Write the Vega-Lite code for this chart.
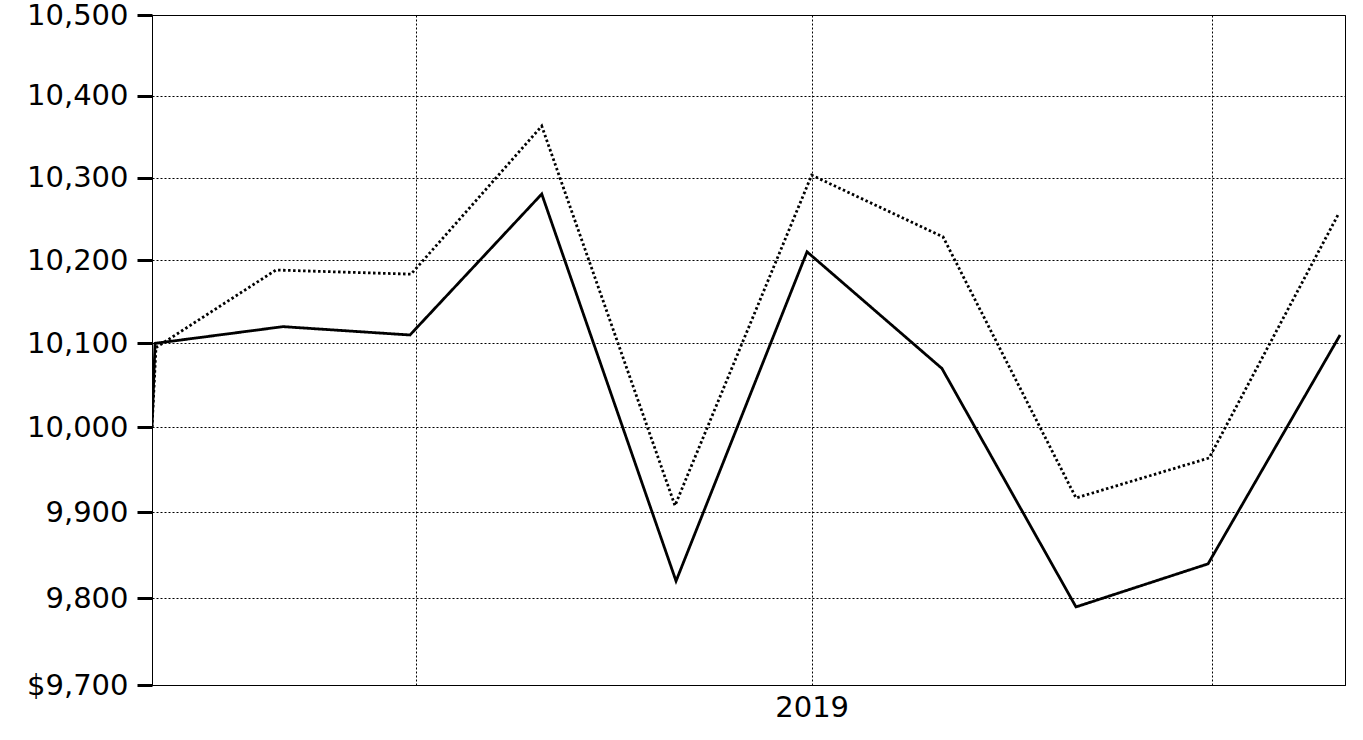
{
  "$schema": "https://vega.github.io/schema/vega-lite/v6.json",
  "autosize": "none",
  "width": 1193,
  "height": 670,
  "padding": {"left": 152, "top": 15, "right": 18, "bottom": 55},
  "background": "white",
  "config": {
    "view": {"stroke": "black", "strokeWidth": 1},
    "font": "DejaVu Sans"
  },
  "data": {
    "values": [
      {"series": "Solid", "x": 0, "value": 10000},
      {"series": "Solid", "x": 0.023, "value": 10100},
      {"series": "Solid", "x": 0.987, "value": 10120},
      {"series": "Solid", "x": 1.944, "value": 10110},
      {"series": "Solid", "x": 2.937, "value": 10280},
      {"series": "Solid", "x": 3.949, "value": 9820},
      {"series": "Solid", "x": 4.936, "value": 10210},
      {"series": "Solid", "x": 5.953, "value": 10070},
      {"series": "Solid", "x": 6.963, "value": 9790},
      {"series": "Solid", "x": 7.958, "value": 9840},
      {"series": "Solid", "x": 8.953, "value": 10110},
      {"series": "Dotted", "x": 0, "value": 10000},
      {"series": "Dotted", "x": 0.03, "value": 10095},
      {"series": "Dotted", "x": 0.934, "value": 10188},
      {"series": "Dotted", "x": 1.952, "value": 10183},
      {"series": "Dotted", "x": 2.937, "value": 10363},
      {"series": "Dotted", "x": 3.941, "value": 9908},
      {"series": "Dotted", "x": 4.971, "value": 10303},
      {"series": "Dotted", "x": 5.961, "value": 10228},
      {"series": "Dotted", "x": 6.963, "value": 9917},
      {"series": "Dotted", "x": 7.966, "value": 9964},
      {"series": "Dotted", "x": 8.945, "value": 10257}
    ]
  },
  "mark": {"type": "line", "color": "black", "strokeWidth": 2.8, "clip": true},
  "encoding": {
    "x": {
      "field": "x",
      "type": "quantitative",
      "scale": {"domain": [0, 8.99], "nice": false, "zero": false},
      "axis": {
        "title": null,
        "values": [1.989, 4.971, 7.988],
        "labelExpr": "datum.value > 4 && datum.value < 6 ? '2019' : ''",
        "grid": true,
        "gridColor": "black",
        "gridDash": [2, 2],
        "gridWidth": 1,
        "gridOpacity": 1,
        "ticks": false,
        "domain": true,
        "domainColor": "black",
        "domainWidth": 1,
        "labelFont": "DejaVu Sans",
        "labelFontSize": 29,
        "labelColor": "black",
        "labelPadding": 8
      }
    },
    "y": {
      "field": "value",
      "type": "quantitative",
      "scale": {"type": "log", "domain": [9700, 10500], "nice": false, "zero": false},
      "axis": {
        "title": null,
        "values": [9700, 9800, 9900, 10000, 10100, 10200, 10300, 10400, 10500],
        "labelExpr": "datum.value == 9700 ? '$9,700' : format(datum.value, ',')",
        "grid": true,
        "gridColor": "black",
        "gridDash": [2, 2],
        "gridWidth": 1,
        "gridOpacity": 1,
        "ticks": true,
        "tickSize": 15,
        "tickWidth": 3,
        "tickColor": "black",
        "domain": true,
        "domainColor": "black",
        "domainWidth": 1,
        "labelFont": "DejaVu Sans",
        "labelFontSize": 29,
        "labelColor": "black",
        "labelPadding": 9
      }
    },
    "strokeDash": {
      "field": "series",
      "type": "nominal",
      "scale": {"domain": ["Solid", "Dotted"], "range": [[1, 0], [2.5, 2.5]]},
      "legend": null
    }
  }
}
